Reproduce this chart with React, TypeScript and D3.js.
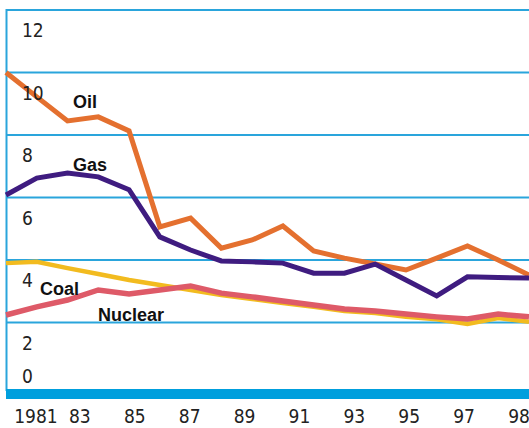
import React, { useRef, useEffect } from "react";
import { select, scaleLinear, scalePoint, line } from "d3";

// annual values, 1981-98
const years = [1981, 1982, 1983, 1984, 1985, 1986, 1987, 1988, 1989, 1990, 1991, 1992, 1993, 1994, 1995, 1996, 1997, 1998];
const oil = [10.0, 9.22, 8.45, 8.58, 8.13, 5.06, 5.34, 4.38, 4.64, 5.09, 4.29, 4.06, 3.87, 3.68, 4.06, 4.45, 4.0, 3.52];
const gas = [6.08, 6.62, 6.78, 6.66, 6.25, 4.74, 4.32, 3.97, 3.94, 3.9, 3.58, 3.58, 3.87, 3.36, 2.85, 3.46, 3.44, 3.42];
const coal = [3.9, 3.94, 3.74, 3.55, 3.36, 3.2, 3.04, 2.88, 2.75, 2.62, 2.5, 2.37, 2.3, 2.18, 2.1, 1.95, 2.14, 2.02];
const nuclear = [2.24, 2.5, 2.72, 3.04, 2.91, 3.04, 3.17, 2.94, 2.82, 2.69, 2.56, 2.43, 2.37, 2.27, 2.18, 2.11, 2.27, 2.18];

const yTicks = [0, 2, 4, 6, 8, 10, 12];
const xTickLabels = ["1981", "83", "85", "87", "89", "91", "93", "95", "97", "98"];

const W = 529;
const H = 428;
const numFont = "'Liberation Sans Narrow', 'Arial Narrow', 'DejaVu Sans Condensed', sans-serif";
const boldFont = "'Liberation Sans', Arial, sans-serif";

function EnergyChart() {
  const svgRef = useRef(null);

  useEffect(() => {
    const svg = select(svgRef.current);
    svg.selectAll("*").remove();

    const left = 6;
    const xScale = scaleLinear().domain([1981, 1998]).range([left, W]);
    const yScale = scaleLinear().domain([0, 12]).range([385, 10]);
    // tick labels are spaced evenly along the bottom
    const labelScale = scalePoint().domain(xTickLabels).range([25, 519]);

    svg.append("rect").attr("width", W).attr("height", H).attr("fill", "#fff");

    // gridlines
    svg
      .selectAll(".grid")
      .data(yTicks.filter(d => d > 0))
      .join("line")
      .attr("class", "grid")
      .attr("x1", left)
      .attr("x2", W)
      .attr("y1", d => yScale(d))
      .attr("y2", d => yScale(d))
      .attr("stroke", "#2aa5dc")
      .attr("stroke-width", 2);

    svg
      .append("line")
      .attr("x1", left + 0.5)
      .attr("x2", left + 0.5)
      .attr("y1", yScale(12) - 1)
      .attr("y2", yScale(0) + 6)
      .attr("stroke", "#2aa5dc")
      .attr("stroke-width", 2);

    // series
    const series = [
      { name: "coal", values: coal, color: "#f2bb1f", width: 4.5 },
      { name: "nuclear", values: nuclear, color: "#de5a68", width: 5.5 },
      { name: "oil", values: oil, color: "#e4702f", width: 5 },
      { name: "gas", values: gas, color: "#3f1c80", width: 5 },
    ];
    const lineGen = line<number>()
      .x((d, i) => xScale(years[i]))
      .y(d => yScale(d));

    svg
      .selectAll(".series")
      .data(series)
      .join("path")
      .attr("class", "series")
      .attr("d", d => lineGen(d.values))
      .attr("fill", "none")
      .attr("stroke", d => d.color)
      .attr("stroke-width", d => d.width);

    // y labels sit just under their gridline (0 sits above the base bar)
    svg
      .selectAll(".ylab")
      .data(yTicks)
      .join("text")
      .attr("class", "ylab")
      .attr("x", 22)
      .attr("y", d => (d === 0 ? yScale(d) - 2 : yScale(d) + 27))
      .attr("font-family", numFont)
      .attr("font-size", 19)
      .attr("fill", "#222")
      .text(d => d);

    // base bar
    svg
      .append("rect")
      .attr("x", left)
      .attr("y", yScale(0) + 4)
      .attr("width", W - left)
      .attr("height", 10)
      .attr("fill", "#009fdd");

    // series names
    const names = [
      { text: "Oil", x: 73, y: yScale(8.85) },
      { text: "Gas", x: 73, y: yScale(6.85) },
      { text: "Coal", x: 40, y: yScale(2.88) },
      { text: "Nuclear", x: 98, y: yScale(2.05) },
    ];
    svg
      .selectAll(".name")
      .data(names)
      .join("text")
      .attr("class", "name")
      .attr("x", d => d.x)
      .attr("y", d => d.y)
      .attr("font-family", boldFont)
      .attr("font-weight", "bold")
      .attr("font-size", 18)
      .attr("fill", "#111")
      .text(d => d.text);

    // x labels
    svg
      .selectAll(".xlab")
      .data(xTickLabels)
      .join("text")
      .attr("class", "xlab")
      .attr("x", d => labelScale(d))
      .attr("dx", (d, i) => (i === 0 ? 11 : 0))
      .attr("y", 423)
      .attr("text-anchor", "middle")
      .attr("font-family", numFont)
      .attr("font-size", 19)
      .attr("fill", "#222")
      .text(d => d);
  }, []);

  return (
    <svg
      ref={svgRef}
      width={W}
      height={H}
      style={{ position: "absolute", left: 0, top: 0, display: "block" }}
    />
  );
}

export default function App() {
  return <EnergyChart />;
}
